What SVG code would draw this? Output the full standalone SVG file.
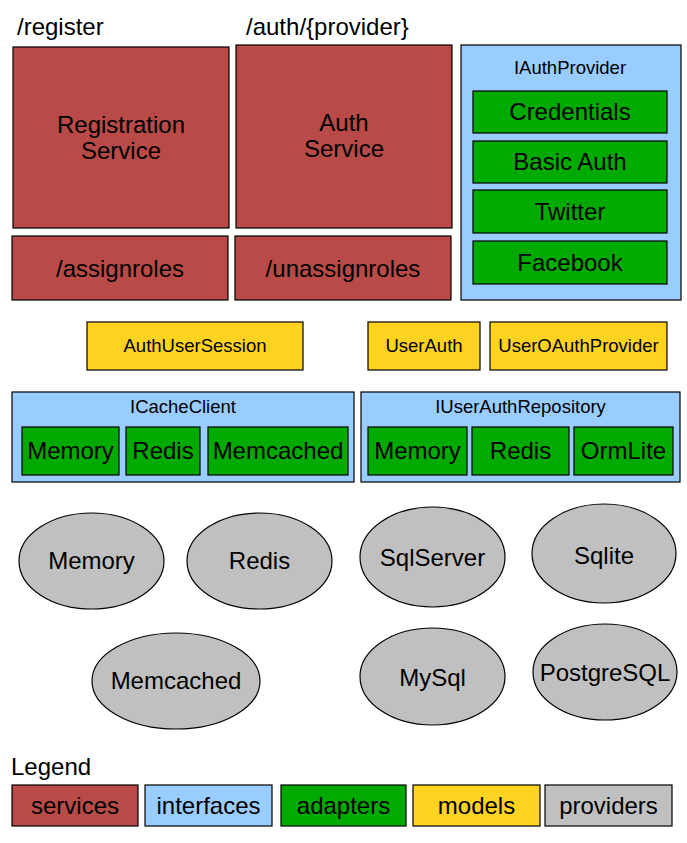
<svg xmlns="http://www.w3.org/2000/svg" width="687" height="843" viewBox="0 0 687 843">
<style>
text{font-family:"Liberation Sans",Arial,sans-serif;fill:#000}
.b{stroke:#000;stroke-width:1.2}
.svc{fill:#B84A48}
.ifc{fill:#99CCFF}
.ad{fill:#00AA00}
.md{fill:#FFD320}
.pv{fill:#C0C0C0}
.L{font-size:24px;text-anchor:middle}
.M{font-size:18.5px;text-anchor:middle}
.t{font-size:24px}
</style>
<rect width="687" height="843" fill="#fff"/>
<text class="t" x="17" y="35">/register</text>
<text class="t" x="246" y="35">/auth/{provider}</text>
<g id="registration-service"><rect class="b svc" x="13" y="47" width="216" height="181"/><text class="L" x="121" y="133">Registration</text><text class="L" x="121" y="159">Service</text></g>
<g id="auth-service"><rect class="b svc" x="236" y="45" width="216" height="183"/><text class="L" x="344" y="131">Auth</text><text class="L" x="344" y="157">Service</text></g>
<g id="assignroles"><rect class="b svc" x="12" y="236" width="216" height="64"/><text class="L" x="120" y="277">/assignroles</text></g>
<g id="unassignroles"><rect class="b svc" x="235" y="236" width="216" height="64"/><text class="L" x="343" y="277">/unassignroles</text></g>
<g id="iauthprovider"><rect class="b ifc" x="461" y="45" width="220" height="255"/><text class="M" x="570" y="74">IAuthProvider</text>
<rect class="b ad" x="473" y="91" width="194" height="42"/><text class="L" x="570" y="120">Credentials</text>
<rect class="b ad" x="473" y="141" width="194" height="42"/><text class="L" x="570" y="170">Basic Auth</text>
<rect class="b ad" x="473" y="190" width="194" height="43"/><text class="L" x="570" y="220">Twitter</text>
<rect class="b ad" x="473" y="241" width="194" height="43"/><text class="L" x="570" y="271">Facebook</text></g>
<g id="authusersession"><rect class="b md" x="87" y="322" width="216" height="48"/><text class="M" x="195" y="352">AuthUserSession</text></g>
<g id="userauth"><rect class="b md" x="368" y="322" width="112" height="48"/><text class="M" x="424" y="352">UserAuth</text></g>
<g id="useroauthprovider"><rect class="b md" x="490" y="322" width="177" height="48"/><text class="M" x="578.5" y="352">UserOAuthProvider</text></g>
<g id="icacheclient"><rect class="b ifc" x="12" y="392" width="342" height="90"/><text class="M" x="183" y="413">ICacheClient</text>
<rect class="b ad" x="22" y="427" width="97" height="48"/><text class="L" x="70.5" y="459">Memory</text>
<rect class="b ad" x="126" y="427" width="74" height="48"/><text class="L" x="163" y="459">Redis</text>
<rect class="b ad" x="208" y="427" width="140" height="48"/><text class="L" x="278" y="459">Memcached</text></g>
<g id="iuserauthrepository"><rect class="b ifc" x="361" y="392" width="319" height="90"/><text class="M" x="520.5" y="413">IUserAuthRepository</text>
<rect class="b ad" x="368" y="427" width="99" height="48"/><text class="L" x="417.5" y="459">Memory</text>
<rect class="b ad" x="472" y="427" width="97" height="48"/><text class="L" x="520.5" y="459">Redis</text>
<rect class="b ad" x="574" y="427" width="99" height="48"/><text class="L" x="623.5" y="459">OrmLite</text></g>
<g id="p-memory"><ellipse class="b pv" cx="91.5" cy="561" rx="72.5" ry="48"/><text class="L" x="91.5" y="569">Memory</text></g>
<g id="p-redis"><ellipse class="b pv" cx="259.5" cy="561" rx="72.5" ry="48"/><text class="L" x="259.5" y="569">Redis</text></g>
<g id="p-memcached"><ellipse class="b pv" cx="176" cy="681" rx="84" ry="48"/><text class="L" x="176" y="689">Memcached</text></g>
<g id="p-sqlserver"><ellipse class="b pv" cx="432.5" cy="557" rx="72.5" ry="50"/><text class="L" x="432.5" y="566">SqlServer</text></g>
<g id="p-sqlite"><ellipse class="b pv" cx="604" cy="553.5" rx="72" ry="49.5"/><text class="L" x="604" y="564">Sqlite</text></g>
<g id="p-mysql"><ellipse class="b pv" cx="432.5" cy="676.5" rx="72.5" ry="48.5"/><text class="L" x="432.5" y="686">MySql</text></g>
<g id="p-postgresql"><ellipse class="b pv" cx="605" cy="672" rx="72" ry="48"/><text class="L" x="605" y="681">PostgreSQL</text></g>
<g id="connectors"></g>
<g id="legend"><text class="t" x="11" y="775">Legend</text>
<rect class="b svc" x="12" y="785" width="126" height="41"/><text class="L" x="75" y="814">services</text>
<rect class="b ifc" x="145" y="785" width="127" height="41"/><text class="L" x="208.5" y="814">interfaces</text>
<rect class="b ad" x="281" y="785" width="125" height="41"/><text class="L" x="343.5" y="814">adapters</text>
<rect class="b md" x="413" y="785" width="127" height="41"/><text class="L" x="476.5" y="814">models</text>
<rect class="b pv" x="545" y="785" width="127" height="41"/><text class="L" x="608.5" y="814">providers</text></g>
</svg>
